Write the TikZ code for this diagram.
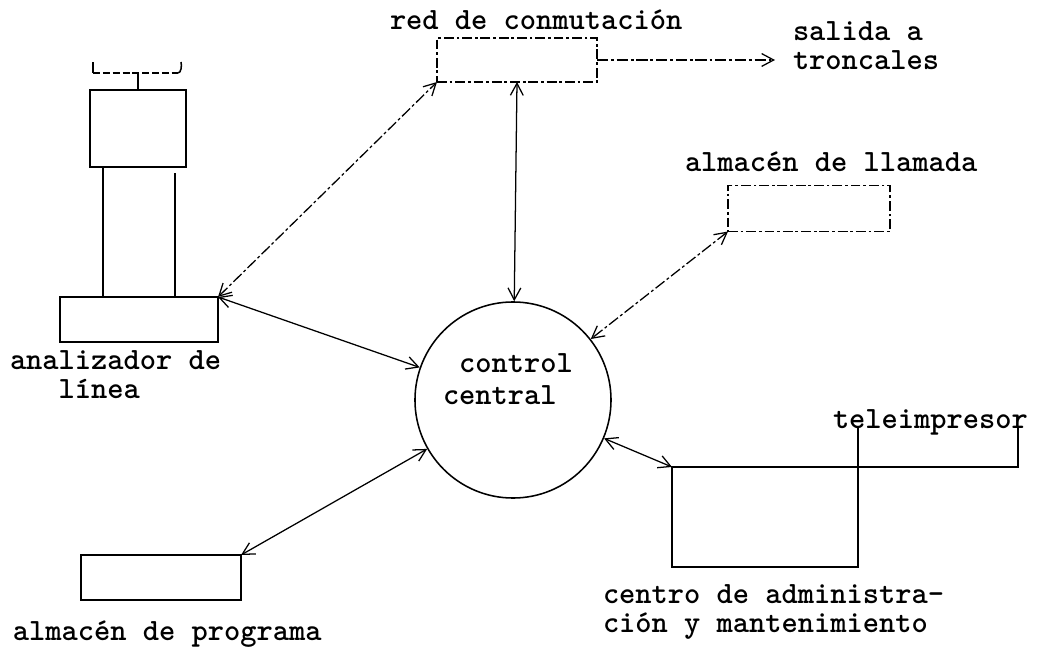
\documentclass[tikz,border=0pt]{standalone}
\usepackage{tikz}
\usetikzlibrary{arrows.meta,positioning,calc}

\tikzset{
  caja/.style={draw, line width=1.1pt, inner sep=0pt, outer sep=0pt},
  cajatenue/.style={caja, line width=0.8pt, dash pattern=on 7pt off 2pt on 2pt off 2pt},
  rotulo/.style={font=\fontsize{22}{20.5}\selectfont\ttfamily\bfseries, inner sep=0pt, outer sep=0pt},
  enlace/.style={line width=0.9pt, <->},
  enlacetenue/.style={enlace, dash pattern=on 8pt off 2pt on 2pt off 2pt},
  trazo/.style={line width=1.1pt}
}

\begin{document}
\begin{tikzpicture}[x=0.025cm, y=-0.025cm, >={Straight Barb[length=3mm,width=3.2mm]}]
\useasboundingbox (0,0) rectangle (1042,657);
% ---- control central
\node[draw, circle, line width=1.1pt, minimum size=4.9cm, inner sep=0pt] (cc) at (513,400) {};
\node[rotulo, anchor=north west, align=left, font=\fontsize{22}{22.7}\selectfont\ttfamily\bfseries]
  (cclbl) at (443,354) {\phantom{c}control\\central};
% ---- boxes
\node[caja, minimum width=3.95cm, minimum height=1.125cm] (anal) at (139,319.5) {};
\node[caja, minimum width=2.4cm, minimum height=1.925cm] (aparato) at (138,128.5) {};
\node[cajatenue, minimum width=4.0cm, minimum height=1.1cm] (red) at (517,60) {};
\node[cajatenue, minimum width=4.05cm, minimum height=1.15cm] (llamada) at (809,208.5) {};
\node[caja, minimum width=4.65cm, minimum height=2.5cm] (centro) at (765,517) {};
\node[inner sep=0pt, outer sep=0pt, minimum width=4.0cm, minimum height=0.975cm] (tele) at (938,447.5) {};
\node[caja, minimum width=4.0cm, minimum height=1.125cm] (programa) at (161,577.5) {};
% ---- labels
\node[rotulo, anchor=base west] (redlbl) at (390,30) {red de conmutación};
\node[rotulo, anchor=north west, align=left] (salida) at (793,22) {salida a\\troncales};
\node[rotulo, anchor=base west] (llamlbl) at (685,172) {almacén de llamada};
\node[rotulo, anchor=north west, align=left] (anallbl) at (10,351) {analizador de\\\phantom{ana}línea};
\node[rotulo, anchor=base west] (telelbl) at (833,428) {teleimpresor};
\node[rotulo, anchor=north west, align=left] (centrolbl) at (603,585)
  {centro de administra-\\ción y mantenimiento};
\node[rotulo, anchor=base west] (proglbl) at (13,640) {almacén de programa};
% ---- subscriber set on the line
\coordinate (hiloA) at ([xshift=0.325cm]aparato.south west);
\coordinate (hiloB) at ([xshift=-0.275cm]aparato.south east);
\draw[trazo] (hiloA) -- (hiloA |- anal.north);
\draw[trazo] ([yshift=-0.15cm]hiloB) -- (hiloB |- anal.north);
\draw[trazo] (aparato.north) -- ++(0,-17) coordinate (horq);
\draw[line width=1pt, dash pattern=on 5pt off 2pt] ([xshift=-1.125cm]horq) -- ([xshift=1.0cm]horq);
\draw[trazo] ([xshift=-1.125cm]horq) -- ++(0,-11);
\draw[trazo] ([xshift=1.0cm]horq) .. controls +(3,0) and +(1,4) .. ++(3,-11);
% ---- teleprinter
\draw[trazo] (tele.north west) -- (tele.south west) -- (tele.south east) -- (tele.north east);
% ---- connectors
\draw[enlacetenue] (anal.north east) -- (red.south west);
\draw[enlace] (red.south) -- (cc);
\draw[enlace] (anal.north east) -- (cc);
\draw[enlacetenue] (llamada.south west) -- (cc);
\draw[enlace] (centro.north west) -- (cc);
\draw[enlace] (programa.north east) -- (cc);
\draw[enlacetenue, ->, shorten >=0.45cm] (red.east) -- (red.east -| salida.west);
\end{tikzpicture}
\end{document}
